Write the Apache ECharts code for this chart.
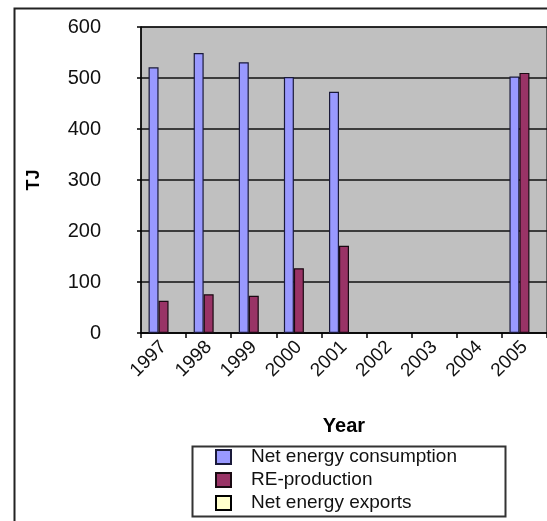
<!DOCTYPE html>
<html>
<head>
<meta charset="utf-8">
<script src="https://cdn.jsdelivr.net/npm/echarts@6/dist/echarts.min.js"></script>
<style>
html,body{margin:0;padding:0;background:#fff;}
#chart{width:547px;height:521px;}
</style>
</head>
<body>
<div id="chart"></div>
<script>
var years = ['1997','1998','1999','2000','2001','2002','2003','2004','2005'];
var netConsumption = [521, 549, 531, 502, 473, null, null, null, 503];
var reProduction = [63, 76, 73, 127, 171, null, null, null, 510];
var netExports = [null, null, null, null, null, null, null, null, null];
var yTicks = [0, 100, 200, 300, 400, 500, 600];

var font = '"Liberation Sans", Arial, sans-serif';
var chart = echarts.init(document.getElementById('chart'), null, {renderer: 'canvas'});

chart.setOption({
  animation: false,
  backgroundColor: '#fff',
  grid: {
    left: 141, top: 27, width: 407, height: 306,
    show: true, backgroundColor: '#C0C0C0', borderColor: '#000', borderWidth: 1
  },
  xAxis: {
    type: 'category',
    data: years,
    name: 'Year',
    nameLocation: 'middle',
    nameGap: 83,
    nameTextStyle: {fontFamily: font, fontSize: 20, fontWeight: 'bold', color: '#000'},
    axisLine: {show: true, lineStyle: {color: '#000', width: 1.5}},
    axisTick: {show: true, length: 5, lineStyle: {color: '#000', width: 1.5}},
    axisLabel: {rotate: 45, margin: 11, fontFamily: font, fontSize: 19, color: '#111'},
    splitLine: {show: false}
  },
  yAxis: {
    type: 'value',
    min: yTicks[0],
    max: yTicks[yTicks.length - 1],
    interval: 100,
    name: 'TJ',
    nameLocation: 'middle',
    nameRotate: 90,
    nameGap: 98,
    nameTextStyle: {fontFamily: font, fontSize: 18, fontWeight: 'bold', color: '#000'},
    axisLine: {show: true, lineStyle: {color: '#000', width: 1.5}},
    axisTick: {show: true, length: 4, lineStyle: {color: '#000', width: 1.5}},
    axisLabel: {margin: 40, fontFamily: font, fontSize: 20, color: '#111'},
    splitLine: {show: true, lineStyle: {color: '#111', width: 1.5}}
  },
  legend: {
    orient: 'vertical',
    left: 215, top: 447,
    icon: 'rect',
    itemWidth: 15, itemHeight: 14,
    itemGap: 3,
    padding: 0,
    textStyle: {fontFamily: font, fontSize: 19, color: '#111', padding: [0, 0, 0, 15], lineHeight: 20},
    data: ['Net energy consumption', 'RE-production', 'Net energy exports']
  },
  series: [
    {name: 'Net energy consumption', type: 'bar', data: netConsumption, barWidth: 10, barGap: '0%',
     itemStyle: {color: '#9999FF', borderColor: '#1a1a3a', borderWidth: 1.2}},
    {name: 'RE-production', type: 'bar', data: reProduction, barWidth: 10, barGap: '0%',
     itemStyle: {color: '#993366', borderColor: '#1a0a12', borderWidth: 1.2}},
    {name: 'Net energy exports', type: 'bar', data: netExports, barWidth: 10, barGap: '0%',
     itemStyle: {color: '#FFFFCC', borderColor: '#000', borderWidth: 1.2}}
  ],
  graphic: [
    {type: 'rect', left: 12, top: 6, shape: {x: 0, y: 0, width: 600, height: 600},
     style: {fill: 'none', stroke: '#222', lineWidth: 2}, silent: true, z: 100},
    {type: 'rect', left: 190, top: 444, shape: {x: 0, y: 0, width: 313, height: 70},
     style: {fill: 'none', stroke: '#333', lineWidth: 2}, silent: true, z: 100}
  ]
});
</script>
</body>
</html>
